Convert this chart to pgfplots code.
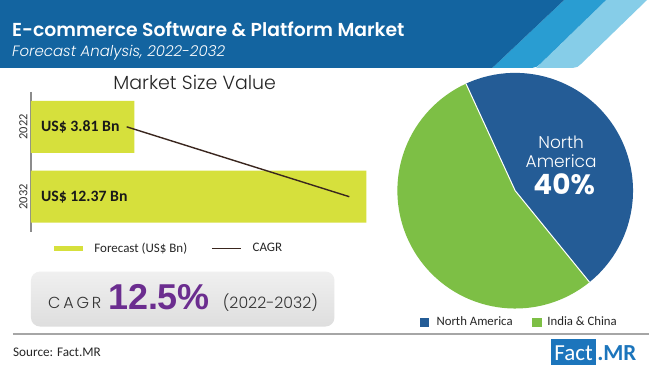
\documentclass[border=0pt]{standalone}
\usepackage{pgfplots}
\pgfplotsset{compat=1.18}
\usepackage{fontspec}
\setmainfont{Carlito}
\newfontfamily\popl{Poppins Light}
\newfontfamily\poplsp[LetterSpace=18]{Poppins Light}
\newfontfamily\popsb{Poppins SemiBold}
\newfontfamily\popb{Poppins Bold}
\newfontfamily\popli{Poppins Light Italic}
\newfontfamily\lib{Liberation Sans}
\definecolor{hdark}{RGB}{19,100,160}
\definecolor{hmid}{RGB}{41,157,210}
\definecolor{hlight}{RGB}{134,205,232}
\definecolor{barc}{RGB}{214,224,60}
\definecolor{linec}{RGB}{58,38,30}
\definecolor{purp}{RGB}{107,45,143}
\definecolor{pieblue}{RGB}{36,92,150}
\definecolor{piegreen}{RGB}{125,191,69}
\definecolor{logoblue}{RGB}{28,117,188}
\begin{document}
\begin{tikzpicture}[x=1pt,y=1pt]
\fill[white] (0,0) rectangle (650,368);
% header band
\fill[hlight] (607,368) -- (648,368) -- (582,304) to[out=225,in=0] (574,300) -- (537,300) -- cycle;
\fill[hmid] (565,368) -- (607,368) -- (541,304) to[out=225,in=0] (533,300) -- (493,300) -- cycle;
\fill[hdark] (0,368) -- (565,368) -- (493,300) -- (0,300) -- cycle;
\node[anchor=base west, inner sep=0, text=white] at (12,331) {\fontsize{18.8}{20}\popsb E-commerce Software \& Platform Market};
\node[anchor=base west, inner sep=0, text=white] at (12,311) {\fontsize{15}{15}\popli Forecast Analysis, 2022-2032};

% bar chart title
\node[anchor=base, inner sep=0, text=black!85] at (195,278) {\fontsize{19}{20}\popl Market Size Value};

\begin{axis}[at={(31pt,136pt)}, anchor=south west, scale only axis,
  width=339.5pt, height=140pt,
  xmin=0, xmax=12.5, ymin=-0.5, ymax=1.5, y dir=reverse,
  bar width=52pt,
  axis x line=none, axis y line*=left,
  y axis line style={-, draw=black!45, line width=1.3pt},
  ytick={0,1}, yticklabels={2022,2032},
  yticklabel style={rotate=90, anchor=south, font=\fontsize{12.5}{12}\selectfont, text=black!80},
  major tick length=0pt, clip=false,
  legend style={at={(axis description cs:0.06,-0.12)}, anchor=west, draw=none, fill=none,
    legend columns=2, font=\fontsize{13}{13}\selectfont, text=black!85,
    /tikz/every odd column/.append style={column sep=9pt},
    /tikz/every even column/.append style={column sep=22pt}},
  legend cell align=left,
  ]
\addplot[xbar, fill=barc, draw=none, area legend,
  legend image code/.code={\fill[barc] (0pt,-2.5pt) rectangle (29pt,2.5pt);}]
  coordinates {(3.81,0) (12.37,1)};
\addlegendentry{Forecast (US\$ Bn)}
\addplot[line width=1.4pt, color=linec, mark=none,
  legend image code/.code={\draw[line width=1.5pt, linec] (-1pt,0pt) -- (28pt,0pt);}]
  coordinates {(3.53,0) (11.74,1)};
\addlegendentry{CAGR}
\node[anchor=west, inner sep=0, xshift=10pt, text=black!90] at (axis cs:0,0) {\fontsize{15.8}{15}\selectfont\bfseries US\$ 3.81 Bn};
\node[anchor=west, inner sep=0, xshift=10pt, text=black!90] at (axis cs:0,1) {\fontsize{15.8}{15}\selectfont\bfseries US\$ 12.37 Bn};
\end{axis}

% CAGR box
\shade[rounded corners=9pt, top color=black!6, bottom color=black!13] (31,41) rectangle (335,96);
\node[anchor=base west, inner sep=0, text=black!80] at (48,59) {\fontsize{16}{16}\poplsp CAGR};
\node[anchor=base west, inner sep=0, text=purp] at (108,58) {\fontsize{36}{36}\lib\bfseries 12.5\%};
\node[anchor=base west, inner sep=0, text=black!80] at (223,59) {\fontsize{15.8}{16}\popl (2022-2032)};

% separator and footer
\draw[line width=2pt, black!35] (13,33) -- (650,33);
\node[anchor=base west, inner sep=0, text=black!85] at (13,11) {\fontsize{13.2}{13}\selectfont Source: Fact.MR};
\fill[logoblue] (552,2) rectangle (597,28);
\node[anchor=base, inner sep=0, text=white] at (574.5,7) {\fontsize{23}{23}\selectfont Fact};
\node[anchor=base west, inner sep=0, text=logoblue] at (598,7) {\fontsize{23}{23}\selectfont\bfseries .MR};

% pie
\def\naShare{46}
\def\icShare{54}
\def\startA{114.7}
\begin{axis}[at={(516pt,177pt)}, anchor=center, scale only axis,
  width=236pt, height=236pt, xmin=-1, xmax=1, ymin=-1, ymax=1, hide axis, clip=false]
\pgfmathsetmacro{\endA}{\startA-3.6*\naShare}
\pgfmathsetmacro{\endB}{\endA-3.6*\icShare}
\fill[pieblue] (axis cs:0,0) -- ++(\startA:118pt) arc[start angle=\startA, end angle=\endA, radius=118pt] -- cycle;
\fill[piegreen] (axis cs:0,0) -- ++(\endA:118pt) arc[start angle=\endA, end angle=\endB, radius=118pt] -- cycle;
\draw[white, line width=1pt] (axis cs:0,0) -- ++(\startA:118pt);
\draw[white, line width=1pt] (axis cs:0,0) -- ++(\endA:118pt);
\end{axis}
\node[anchor=base, inner sep=0, text=white] at (562,219) {\fontsize{17}{17}\popl North};
\node[anchor=base, inner sep=0, text=white] at (562,200) {\fontsize{17}{17}\popl America};
\node[anchor=base, inner sep=0, text=white] at (565,173) {\fontsize{28}{28}\popb 40\%};

% pie legend
\fill[pieblue] (421,41) rectangle (430,50);
\node[anchor=base west, inner sep=0, text=black!85] at (437,42) {\fontsize{12.8}{12}\selectfont North America};
\fill[piegreen] (533,41) rectangle (543,50);
\node[anchor=base west, inner sep=0, text=black!85] at (548,42) {\fontsize{12.8}{12}\selectfont India \& China};
\end{tikzpicture}
\end{document}
